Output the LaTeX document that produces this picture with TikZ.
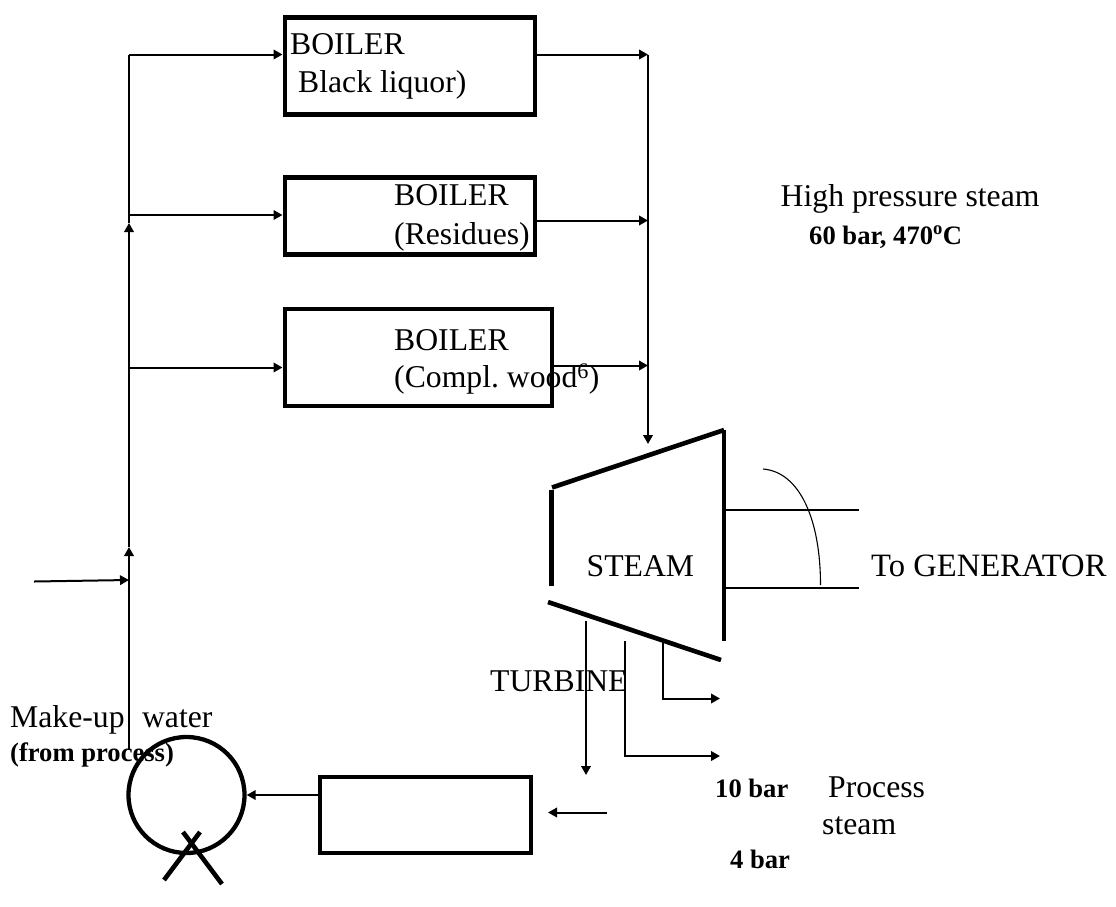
\documentclass[tikz,border=0pt]{standalone}
\usepackage{fontspec}
\setmainfont{Liberation Serif}
\usetikzlibrary{arrows.meta}
\frenchspacing
\tikzset{
  flow/.style={line width=2pt,-{Triangle[length=9pt,width=9.5pt]}},
  pipe/.style={line width=2pt},
  thick box/.style={draw,line width=4.7pt,inner sep=0pt,anchor=north west},
  heavy/.style={line width=4.6pt},
  thin line/.style={line width=1.1pt},
  lbl/.style={inner sep=0pt,anchor=base west,font=\fontsize{31.7}{32}\selectfont},
  blbl/.style={inner sep=0pt,anchor=base west,font=\fontsize{26.6}{27}\selectfont\bfseries},
}
\begin{document}
\begin{tikzpicture}[x=1pt,y=-1pt]
\useasboundingbox (0,0) rectangle (1116,906);
% boilers
\node[thick box,minimum width=250pt,minimum height=97pt] (b1) at (282.5,15) {};
\node[thick box,minimum width=250pt,minimum height=77pt] (b2) at (282.5,175) {};
\node[thick box,minimum width=267pt,minimum height=97pt] (b3) at (282.5,306.5) {};
\node[thick box,minimum width=211pt,minimum height=76pt] (cond) at (317.5,774.5) {};
\node[draw,circle,line width=4.3pt,minimum size=116pt,inner sep=0pt] (tank) at (186.5,795) {};
% junction coordinates
\coordinate (trunkBot) at (129,750);
\coordinate (t1) at (129,547);
\coordinate (t2) at (129,223);
\coordinate (trunkTop) at (129,54.5);
\coordinate (j2) at (129,215);
\coordinate (j3) at (129,367.5);
\coordinate (feedIn) at (34,581.5);
\coordinate (feedEnd) at (129,580);
\coordinate (r1) at (648,54.5);
\coordinate (r2) at (648,220.5);
\coordinate (r3) at (648,365.5);
\coordinate (rBot) at (648,444);
% left trunk
\draw[flow] (trunkBot) -- (t1);
\draw[flow] (t1) -- (t2);
\draw[pipe] (t2) -- (trunkTop);
\draw[flow] (trunkTop) -- (trunkTop -| b1.west);
\draw[flow] (j2) -- (j2 -| b2.west);
\draw[flow] (j3) -- (j3 -| b3.west);
\draw[flow] (feedIn) -- (feedEnd);
% right manifold
\draw[flow] (r1 -| b1.east) -- (r1);
\draw[flow] (r2 -| b2.east) -- (r2);
\draw[flow] (r3 -| b3.east) -- (r3);
\draw[flow] (r1) -- (rBot);
% turbine
\coordinate (tTL) at (552,487.5);
\coordinate (tTR) at (724,430);
\coordinate (tBL) at (548,602);
\coordinate (tBR) at (721,660);
\draw[heavy] (tTL) -- (tTR);
\draw[heavy] (551.5,490) -- (551.5,586);
\draw[heavy] (tTR) -- (724,641);
\draw[heavy] (tBL) -- (tBR);
% shaft
\coordinate (s1a) at (726,510);
\coordinate (s1b) at (859,510);
\coordinate (s2a) at (726,588);
\coordinate (s2b) at (859,588);
\draw[thin line] (s1a) -- (s1b);
\draw[thin line] (s2a) -- (s2b);
\coordinate (arcA) at (763,469);
\coordinate (arcB) at (820.5,585);
\draw[thin line] (arcA) .. controls (800,472) and (820.5,520) .. (arcB);
% extraction lines
\coordinate (eA) at (586,621);
\coordinate (eAt) at (586,775);
\coordinate (eB) at (624.5,641);
\coordinate (eBt) at (720,756);
\coordinate (eC) at (663,643);
\coordinate (eCt) at (720,698.5);
\draw[flow] (eA) -- (eAt);
\draw[flow] (eB) |- (eBt);
\draw[flow] (eC) |- (eCt);
\coordinate (ret) at (607,812.5);
\coordinate (retEnd) at (548,812.5);
\draw[flow] (ret) -- (retEnd);
\coordinate (cOut) at (322,795);
\draw[flow] (cOut) -- (tank.east);
% cross
\coordinate (x1a) at (183,832);
\coordinate (x1b) at (222,884);
\coordinate (x2a) at (200,832);
\coordinate (x2b) at (164,880);
\draw[heavy] (x1a) -- (x1b);
\draw[heavy] (x2a) -- (x2b);
% labels
\node[lbl] (l1) at (290,54.5) {BOILER};
\node[lbl] (l2) at (298,92.5) {Black liquor)};
\node[lbl] (l3) at (394,205.5) {BOILER};
\node[lbl] (l4) at (394,244) {(Residues)};
\node[lbl] (l5) at (394,350.5) {BOILER};
\node[lbl] (l6) at (394,387.5) {(Compl. wood$^{\mathrm{6}}$)};
\node[lbl] (l7) at (780.5,206) {High pressure steam};
\node[blbl] (l8) at (809,244) {60 bar, 470$^{\mathbf{o}}$C};
\node[lbl] (l9) at (586.5,576.5) {STEAM};
\node[lbl,font=\fontsize{32.6}{33}\selectfont] (l10) at (871,576.5) {To GENERATOR};
\node[lbl] (l11) at (490,691) {TURBINE};
\node[lbl] (l12) at (10,727.5) {Make-up\hspace{0.3em} water};
\node[blbl] (l13) at (10,761.5) {(from process)};
\node[blbl] (l14) at (715,797) {10 bar};
\node[lbl] (l15) at (828,797) {Process};
\node[lbl] (l16) at (822,834) {steam};
\node[blbl] (l17) at (730,868) {4 bar};
\end{tikzpicture}
\end{document}
